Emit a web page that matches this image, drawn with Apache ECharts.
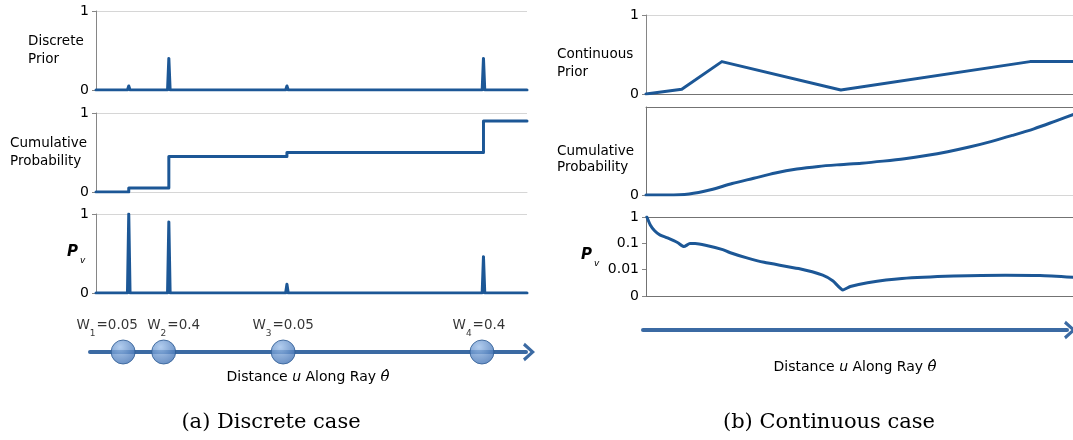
<!DOCTYPE html>
<html>
<head>
<meta charset="utf-8">
<script src="https://cdn.jsdelivr.net/npm/echarts@6/dist/echarts.min.js"></script>
<style>
  html, body { margin: 0; padding: 0; background: #ffffff; }
  #chart { width: 1073px; height: 440px; }
</style>
</head>
<body>
<div id="chart"></div>
<script>
// ---- Discrete case: four surfaces along the ray (position as fraction of ray length) ----
const atomPos = [0.076, 0.169, 0.443, 0.899];
const atomWeights = [0.05, 0.4, 0.05, 0.4];
const discreteCumulative = [0.05, 0.45, 0.5, 0.9];
const discreteVisibility = [1.0, 0.9, 0.11, 0.46];

// ---- Continuous case ----
const priorPos = [0, 0.083, 0.176, 0.452, 0.891, 1.0];
const priorVal = [0, 0.06, 0.41, 0.05, 0.41, 0.41];

const cdfPos = [0, 0.05, 0.10, 0.15, 0.20, 0.25, 0.30, 0.35, 0.40, 0.45, 0.50,
                0.55, 0.60, 0.65, 0.70, 0.75, 0.80, 0.85, 0.90, 0.95, 1.0];
const cdfVal = [0, 0.0, 0.012, 0.06, 0.13, 0.19, 0.25, 0.295, 0.325, 0.345, 0.362,
                0.385, 0.412, 0.448, 0.492, 0.545, 0.607, 0.677, 0.752, 0.84, 0.93];

const pvPos = [0.002, 0.010, 0.020, 0.032, 0.050, 0.074, 0.088, 0.102, 0.114, 0.138, 0.178,
               0.194, 0.234, 0.274, 0.354, 0.410, 0.434, 0.457, 0.474, 0.514, 0.594,
               0.714, 0.834, 0.914, 1.0];
const pvVal = [1.0, 0.5, 0.3, 0.21, 0.16, 0.105, 0.075, 0.098, 0.098, 0.085, 0.058,
               0.045, 0.028, 0.019, 0.011, 0.0062, 0.0037, 0.0017, 0.0023, 0.0032, 0.0046,
               0.0057, 0.0062, 0.006, 0.005];

// Tick labels of the log-scaled visibility axis, from 10^-3 up to 10^0
const logTickLabels = ['0', '0.01', '0.1', '1'];

const FONT = 'DejaVu Sans';
const BLUE = '#1c5796';
const RAY = '#3b6aa3';
const AXIS = '#868686';
const FRAME = '#737373';
const GRID = '#d6d6d6';
const TEXT = '#000000';

const chart = echarts.init(document.getElementById('chart'), null, { renderer: 'canvas' });

function spikes(heights, halfWidth) {
  const pts = [[0, 0]];
  atomPos.forEach((x, i) => {
    pts.push([x - halfWidth, 0], [x, heights[i]], [x + halfWidth, 0]);
  });
  pts.push([1, 0]);
  return pts;
}
const zip = (xs, ys) => xs.map((x, i) => [x, ys[i]]);

const nameStyle = {
  align: 'left', fontFamily: FONT, fontSize: 13.5, color: TEXT, lineHeight: 18
};
const pvName = '{p|P}{v|v}';
const pvRich = {
  p: { fontFamily: FONT, fontSize: 15, fontWeight: 'bold', fontStyle: 'italic', color: TEXT,
       lineHeight: 18, verticalAlign: 'top' },
  v: { fontFamily: FONT, fontSize: 9, fontStyle: 'italic', color: TEXT, lineHeight: 9,
       padding: [12, 0, 0, 2], verticalAlign: 'top' }
};
const tickLabel = { color: TEXT, fontFamily: FONT, fontSize: 14, margin: 7 };

function yLinear(gridIndex, name, nameGap, extra) {
  return Object.assign({
    gridIndex, type: 'value', min: 0, max: 1, interval: 1,
    axisLine: { show: true, lineStyle: { color: AXIS, width: 1 } },
    axisTick: { show: true, length: 4, lineStyle: { color: AXIS } },
    axisLabel: tickLabel,
    splitLine: { show: true, showMinLine: false, lineStyle: { color: GRID, width: 1 } },
    name, nameLocation: 'middle', nameGap, nameRotate: 0, nameMoveOverlap: false,
    nameTextStyle: nameStyle
  }, extra || {});
}
function xHidden(gridIndex, color, position) {
  return {
    gridIndex, type: 'value', min: 0, max: 1, position: position || 'bottom',
    axisLine: { show: true, onZero: false, lineStyle: { color, width: 1 } },
    axisTick: { show: false }, axisLabel: { show: false }, splitLine: { show: false }
  };
}
// Open chevron arrowhead at the far end of each ray
const CHEVRON = 'path://M0,11 L10,0 L20,11 L17,13 L10,5 L3,13 Z';
const rayName = '{n|Distance }{i|u}{n| Along Ray }{t|θ̂}';
const rayRich = {
  n: { fontFamily: FONT, fontSize: 14, color: TEXT },
  i: { fontFamily: FONT, fontSize: 14, fontStyle: 'italic', color: TEXT },
  t: { fontFamily: 'DejaVu Serif', fontSize: 15, fontStyle: 'italic', color: TEXT }
};
function rayAxis(gridIndex, nameGap) {
  return {
    gridIndex, type: 'value', min: 0, max: 1,
    axisLine: {
      show: true, onZero: false,
      symbol: ['none', CHEVRON], symbolSize: [20, 12], symbolOffset: [0, 3],
      lineStyle: { color: RAY, width: 4 }
    },
    axisTick: { show: false }, axisLabel: { show: false }, splitLine: { show: false },
    name: rayName, nameLocation: 'middle', nameGap, nameMoveOverlap: false,
    nameTextStyle: { rich: rayRich }
  };
}

const lineBase = {
  type: 'line', showSymbol: false, symbol: 'none', animation: false, silent: true,
  lineStyle: { color: BLUE, width: 3, join: 'round', cap: 'round' }
};

// Labels of the first two circles are pushed apart so they do not overlap
const labelNudge = [-16, 10, 0, -3];

const gridBox = (left, top, width, height) => ({ left, top, width, height, outerBoundsMode: 'none' });

const option = {
  animation: false,
  backgroundColor: '#ffffff',
  grid: [
    gridBox(96, 11, 431, 79),    // discrete prior
    gridBox(96, 113, 431, 79),   // discrete cumulative
    gridBox(96, 214, 431, 79),   // discrete visibility
    gridBox(646, 15, 431, 79),   // continuous prior
    gridBox(646, 107, 431, 88),  // continuous cumulative
    gridBox(646, 217, 431, 79),  // continuous visibility (log)
    gridBox(90, 330, 436, 22),   // discrete ray
    gridBox(643, 308, 424, 22)   // continuous ray
  ],
  xAxis: [
    xHidden(0, GRID), xHidden(1, GRID), xHidden(2, GRID),
    xHidden(3, FRAME), xHidden(4, GRID), xHidden(5, FRAME),
    rayAxis(6, 18), rayAxis(7, 30),
    xHidden(4, FRAME, 'top'), xHidden(5, FRAME, 'top')
  ],
  yAxis: [
    yLinear(0, 'Discrete\nPrior', 68),
    yLinear(1, 'Cumulative\nProbability', 86),
    yLinear(2, pvName, 29, { nameTextStyle: { align: 'left', rich: pvRich } }),
    yLinear(3, '\nContinuous\nPrior', 89, {
      nameTextStyle: Object.assign({}, nameStyle, { lineHeight: 18 })
    }),
    yLinear(4, '\nCumulative\nProbability', 89, {
      axisLine: { show: true, lineStyle: { color: FRAME, width: 1 } },
      axisTick: { show: true, length: 4, customValues: [0], lineStyle: { color: AXIS } },
      axisLabel: Object.assign({}, tickLabel, { customValues: [0] }),
      splitLine: { show: false },
      nameTextStyle: Object.assign({}, nameStyle, { lineHeight: 16 })
    }),
    {
      gridIndex: 5, type: 'log', logBase: 10, min: 0.001, max: 1,
      axisLine: { show: true, lineStyle: { color: FRAME, width: 1 } },
      axisTick: { show: true, length: 4, lineStyle: { color: AXIS } },
      axisLabel: Object.assign({}, tickLabel, {
        formatter: v => logTickLabels[Math.round(Math.log10(v)) + 3]
      }),
      splitLine: { show: false },
      name: pvName, nameLocation: 'middle', nameGap: 65, nameRotate: 0, nameMoveOverlap: false,
      nameTextStyle: { align: 'left', rich: pvRich }
    },
    { gridIndex: 6, type: 'value', min: 0, max: 1, show: false },
    { gridIndex: 7, type: 'value', min: 0, max: 1, show: false }
  ],
  series: [
    Object.assign({}, lineBase, { xAxisIndex: 0, yAxisIndex: 0, data: spikes(atomWeights, 0.003) }),
    Object.assign({}, lineBase, {
      xAxisIndex: 1, yAxisIndex: 1, step: 'end',
      data: [[0, 0]].concat(zip(atomPos, discreteCumulative),
                            [[1, discreteCumulative[discreteCumulative.length - 1]]])
    }),
    Object.assign({}, lineBase, { xAxisIndex: 2, yAxisIndex: 2, data: spikes(discreteVisibility, 0.003) }),
    Object.assign({}, lineBase, { xAxisIndex: 3, yAxisIndex: 3, data: zip(priorPos, priorVal) }),
    Object.assign({}, lineBase, { xAxisIndex: 4, yAxisIndex: 4, smooth: 0.3, data: zip(cdfPos, cdfVal) }),
    Object.assign({}, lineBase, { xAxisIndex: 5, yAxisIndex: 5, smooth: 0.2, data: zip(pvPos, pvVal) }),
    {
      type: 'scatter', xAxisIndex: 6, yAxisIndex: 6, clip: false, animation: false, silent: true,
      symbol: 'circle', symbolSize: 24, z: 5,
      itemStyle: {
        color: new echarts.graphic.RadialGradient(0.38, 0.3, 0.75, [
          { offset: 0, color: '#9ec0ea' },
          { offset: 1, color: '#3f70b3' }
        ]),
        borderColor: '#2c5a92', borderWidth: 1
      },
      label: {
        show: true, position: 'top', distance: 5,
        formatter: p => `{a|W}{s|${p.dataIndex + 1}}{a|=${atomWeights[p.dataIndex]}}`,
        rich: {
          a: { fontFamily: FONT, fontSize: 13.5, color: TEXT, lineHeight: 16, verticalAlign: 'top' },
          s: { fontFamily: FONT, fontSize: 9, color: TEXT, lineHeight: 9, verticalAlign: 'top',
               padding: [11, 1, 0, 0] }
        }
      },
      data: atomPos.map((x, i) => ({ value: [x, 0], label: { offset: [labelNudge[i], 0] } }))
    }
  ],
  graphic: [
    { type: 'text', x: 271, y: 423, silent: true,
      style: { text: '(a) Discrete case', font: '21px "DejaVu Serif"', fill: TEXT,
               align: 'center', verticalAlign: 'middle' } },
    { type: 'text', x: 829, y: 423, silent: true,
      style: { text: '(b) Continuous case', font: '21px "DejaVu Serif"', fill: TEXT,
               align: 'center', verticalAlign: 'middle' } }
  ]
};

chart.setOption(option);
</script>
</body>
</html>
